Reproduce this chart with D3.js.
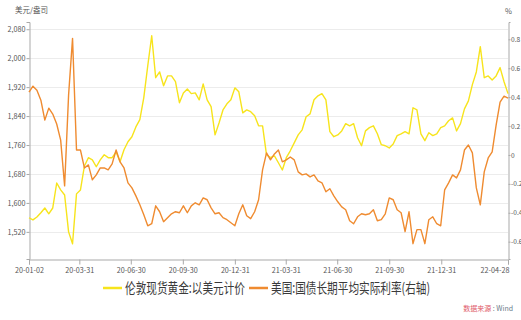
<!DOCTYPE html>
<html>
<head>
<meta charset="utf-8">
<script src="https://cdn.jsdelivr.net/npm/d3@7"></script>
<style>
  html, body { margin: 0; padding: 0; background: #fff; }
  svg { display: block; }
  text { font-family: "Noto Sans CJK SC", "Noto Sans", sans-serif; }
</style>
</head>
<body>
<svg id="chart" width="521" height="320"></svg>
<script>
// Weekly observations starting 2020-01-02 and ending 2022-04-28
const startDay = "2020-01-02";
const endDay = "2022-04-28";

// London spot gold, USD/oz
const goldPrice = [
  1559, 1553, 1561, 1573, 1586, 1570, 1586, 1655, 1636, 1622,
  1520, 1487, 1625, 1636, 1702, 1725, 1719, 1700, 1719, 1733,
  1725, 1725, 1741, 1714, 1747, 1769, 1783, 1810, 1830, 1891,
  1979, 2062, 1946, 1962, 1924, 1951, 1951, 1935, 1877, 1904,
  1915, 1902, 1904, 1885, 1929, 1885, 1866, 1788, 1821, 1857,
  1874, 1885, 1918, 1907, 1849, 1857, 1852, 1841, 1813, 1813,
  1733, 1725, 1730, 1711, 1691, 1725, 1744, 1766, 1788, 1802,
  1838, 1846, 1885, 1896, 1902, 1885, 1797, 1783, 1788, 1799,
  1819, 1813, 1819, 1780, 1758, 1799, 1808, 1813, 1791, 1761,
  1758, 1752, 1763, 1786, 1791, 1797, 1791, 1863, 1857, 1791,
  1772, 1794, 1786, 1791, 1808, 1813, 1827, 1835, 1799, 1819,
  1860, 1882, 1927, 1962, 2032, 1946, 1951, 1940, 1951, 1974,
  1935, 1902
];

// US Treasury long-term average real rate, %
const realRate = [
  0.434, 0.476, 0.448, 0.379, 0.241, 0.324, 0.283, 0.214, 0.103, -0.214,
  0.414, 0.807, 0.034, 0.034, -0.090, -0.069, -0.172, -0.138, -0.090, -0.090,
  -0.103, -0.062, 0.034, -0.048, -0.090, -0.193, -0.228, -0.283, -0.345, -0.414,
  -0.490, -0.476, -0.352, -0.393, -0.462, -0.434, -0.407, -0.393, -0.400, -0.352,
  -0.400, -0.352, -0.331, -0.345, -0.297, -0.310, -0.366, -0.407, -0.400, -0.434,
  -0.448, -0.469, -0.490, -0.407, -0.345, -0.421, -0.441, -0.393, -0.310, -0.103,
  0.014, -0.034, 0.007, 0.034, -0.048, -0.034, -0.014, -0.034, -0.117, -0.138,
  -0.131, -0.152, -0.138, -0.179, -0.193, -0.255, -0.234, -0.283, -0.324, -0.359,
  -0.379, -0.455, -0.476, -0.428, -0.407, -0.414, -0.407, -0.379, -0.455, -0.448,
  -0.407, -0.297, -0.310, -0.379, -0.400, -0.531, -0.393, -0.614, -0.517, -0.517,
  -0.614, -0.448, -0.428, -0.476, -0.490, -0.241, -0.193, -0.138, -0.159, -0.103,
  0.034, 0.069, 0.014, -0.228, -0.345, -0.117, -0.021, 0.021, 0.207, 0.366,
  0.407, 0.393
];

const tickDays = ["2020-01-02", "2020-03-31", "2020-06-30", "2020-09-30", "2020-12-31",
                  "2021-03-31", "2021-06-30", "2021-09-30", "2021-12-31", "2022-04-28"];
const leftTicks = [1520, 1600, 1680, 1760, 1840, 1920, 2000, 2080];
const rightTicks = [-0.6, -0.4, -0.2, 0, 0.2, 0.4, 0.6, 0.8];

const seriesNames = ["伦敦现货黄金:以美元计价", "美国:国债长期平均实际利率(右轴)"];
const seriesColors = ["#f7e41c", "#ef8b30"];

const parse = d3.timeParse("%Y-%m-%d");
const fmtDay = d3.timeFormat("%y-%m-%d");
const t0 = parse(startDay), t1 = parse(endDay);
const weeks = goldPrice.map((_, i) => d3.timeDay.offset(t0, 7 * i));

const m = { left: 29, right: 508, top: 22, bottom: 259 };
const svg = d3.select("#chart");

const x = d3.scaleTime().domain([t0, t1]).range([m.left, m.right]);
const yL = d3.scaleLinear().domain([1445, 2100]).range([m.bottom, m.top]);
const yR = d3.scaleLinear().domain([-0.72, 0.92]).range([m.bottom, m.top]);

const axisColor = "#a9a9a9";
const labelColor = "#555";
const narrow = "'Liberation Sans Narrow', 'DejaVu Sans Condensed', 'Noto Sans', sans-serif";

// horizontal grid at the left-axis ticks
svg.append("g").selectAll("line").data(leftTicks).join("line")
  .attr("x1", m.left).attr("x2", m.right)
  .attr("y1", d => Math.round(yL(d)) + 0.5).attr("y2", d => Math.round(yL(d)) + 0.5)
  .attr("stroke", "#ececec").attr("stroke-width", 1);

// left axis
const gL = svg.append("g").attr("transform", `translate(${m.left + 0.5},0)`)
  .call(d3.axisLeft(yL).tickValues(leftTicks).tickFormat(d3.format(",")).tickSize(3).tickPadding(1));
// right axis
const fmtR = v => (Math.abs(v) < 1e-9 ? "0" : d3.format(".1f")(v)).replace("\u2212", "-");
const gR = svg.append("g").attr("transform", `translate(${m.right + 0.5},0)`)
  .call(d3.axisRight(yR).tickValues(rightTicks).tickFormat(fmtR).tickSize(2).tickPadding(0.5));
// bottom axis
const tickDates = tickDays.map(parse);
const gB = svg.append("g").attr("transform", `translate(0,${m.bottom + 0.5})`)
  .call(d3.axisBottom(x).tickValues(tickDates).tickFormat(fmtDay).tickSize(5).tickPadding(3));

[gL, gR, gB].forEach(g => {
  g.select(".domain").attr("stroke", axisColor);
  g.selectAll(".tick line").attr("stroke", axisColor);
  g.selectAll(".tick text").attr("fill", labelColor).attr("font-size", 7.2)
    .attr("font-family", narrow);
});
gR.selectAll(".tick text").attr("font-size", 6.6);
gB.selectAll(".tick text").filter((d, i) => i === tickDates.length - 1)
  .attr("text-anchor", "end").attr("dx", 1);

// unit labels
svg.append("text").attr("x", 15).attr("y", 13).attr("font-size", 7.5).attr("fill", labelColor)
  .text("美元/盎司");
svg.append("text").attr("x", 505).attr("y", 14).attr("font-size", 7.5).attr("fill", labelColor)
  .text("%");

// series
const lineGold = d3.line().x((d, i) => x(weeks[i])).y(d => yL(d));
const lineRate = d3.line().x((d, i) => x(weeks[i])).y(d => yR(d));
svg.append("path").datum(goldPrice).attr("d", lineGold)
  .attr("fill", "none").attr("stroke", seriesColors[0]).attr("stroke-width", 1.4)
  .attr("stroke-linejoin", "round");
svg.append("path").datum(realRate).attr("d", lineRate)
  .attr("fill", "none").attr("stroke", seriesColors[1]).attr("stroke-width", 1.4)
  .attr("stroke-linejoin", "round");

// legend
const legend = [
  { x1: 103, x2: 122, tx: 125, tw: 120 },
  { x1: 249, x2: 268, tx: 271, tw: 159 }
];
legend.forEach((l, i) => {
  svg.append("line").attr("x1", l.x1).attr("x2", l.x2).attr("y1", 288).attr("y2", 288)
    .attr("stroke", seriesColors[i]).attr("stroke-width", 2.5);
  svg.append("text").attr("x", l.tx).attr("y", 293).attr("font-size", 14).attr("fill", "#3a3a3a")
    .attr("textLength", l.tw).attr("lengthAdjust", "spacingAndGlyphs")
    .text(seriesNames[i]);
});

// source note
const src = svg.append("text").attr("x", 513).attr("y", 311).attr("font-size", 7)
  .attr("text-anchor", "end");
src.append("tspan").attr("fill", "#e05a6a").text("数据来源");
src.append("tspan").attr("fill", "#6a7a8a").text(" : Wind");
</script>
</body>
</html>
